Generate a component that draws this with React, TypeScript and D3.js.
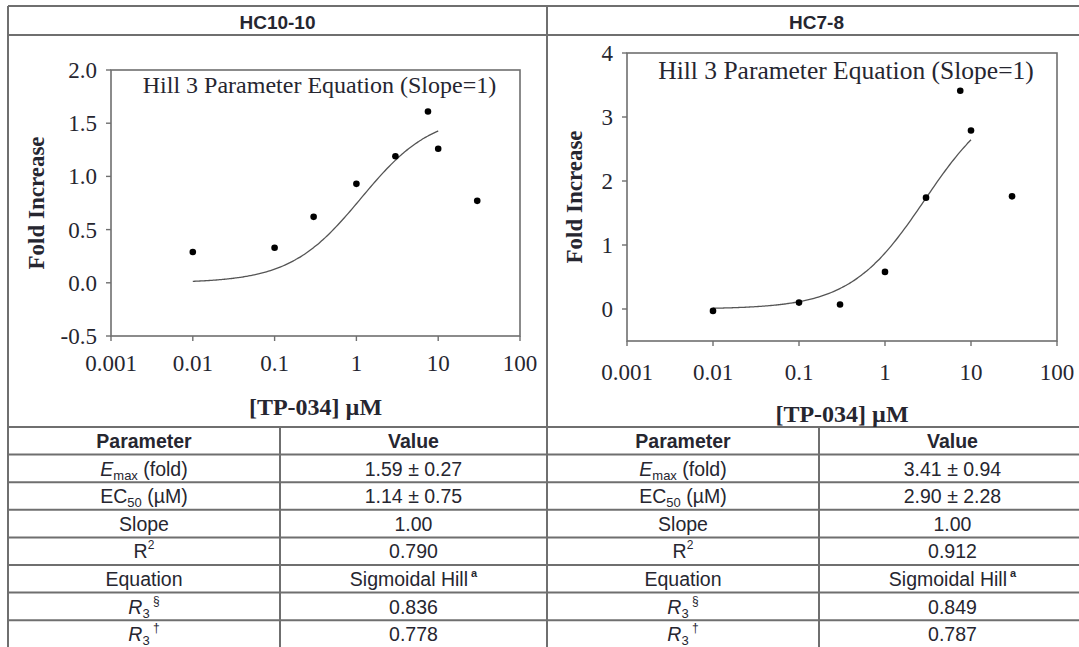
import React from "react";
import * as d3 from "d3";

// ---------- data ----------
const CONCENTRATIONS = [0.01, 0.1, 0.3, 1, 3, 7.5, 10, 30];
const HC10_FOLD = [0.29, 0.33, 0.62, 0.93, 1.19, 1.61, 1.26, 0.77];
const HC7_FOLD = [-0.03, 0.1, 0.07, 0.58, 1.74, 3.41, 2.79, 1.76];
const X_TICKS = [0.001, 0.01, 0.1, 1, 10, 100];
const HC10_Y_TICKS = [-0.5, 0, 0.5, 1.0, 1.5, 2.0];
const HC7_Y_TICKS = [0, 1, 2, 3, 4];
const PANEL_TITLES = ["HC10-10", "HC7-8"];
const FIT_EMAX = [1.59, 3.41];
const FIT_EC50 = [1.14, 2.9];
const FIT_SLOPE = [1.0, 1.0];
const FIT_CONC_RANGE = [0.01, 10];
const ANNOTATION = "Hill 3 Parameter Equation (Slope=1)";
const Y_TITLE = "Fold Increase";
const X_TITLE = "[TP-034] \u00b5M";
const HC10_TABLE_VALUES = ["1.59 \u00b1 0.27", "1.14 \u00b1 0.75", "1.00", "0.790", "Sigmoidal Hill", "0.836", "0.778"];
const HC7_TABLE_VALUES = ["3.41 \u00b1 0.94", "2.90 \u00b1 2.28", "1.00", "0.912", "Sigmoidal Hill", "0.849", "0.787"];

// ---------- layout ----------
const W = 1079;
const H = 647;
const LINE = "#6f6f6f";
const TXT = "#262630";
const SERIF = "'Liberation Serif', 'Times New Roman', serif";
const SANS = "'Liberation Sans', Arial, sans-serif";

const GRID_LEFT = 8;
const GRID_MID = 547;
const GRID_RIGHT = 1086;
const GRID_TOP = 6;
const HEADER_BOTTOM = 35;
const TABLE_TOP = 427;
const ROW_H = 27.6;
const COL_SPLIT = 272;

const fmtHyphen = (f: (n: number) => string) => (n: number) => f(n).replace("\u2212", "-");

const PANELS = [
  { x0: 111, x1: 520, yTop: 70, yBottom: 336, yDomain: [-0.5, 2], yTicks: HC10_Y_TICKS, yFmt: fmtHyphen(d3.format(".1f")), data: HC10_FOLD, annY: 93, yTitleX: 36, xLabelY: 371, xTitleY: 415, tableVals: HC10_TABLE_VALUES },
  { x0: 627, x1: 1057, yTop: 53, yBottom: 341, yDomain: [-0.5, 4], yTicks: HC7_Y_TICKS, yFmt: fmtHyphen(d3.format("d")), data: HC7_FOLD, annY: 79, yTitleX: 574, xLabelY: 380, xTitleY: 422, tableVals: HC7_TABLE_VALUES },
];

function Param({ i }: { i: number }) {
  switch (i) {
    case 0:
      return (
        <>
          <tspan fontStyle="italic">E</tspan>
          <tspan fontSize={13} dy={4}>max</tspan>
          <tspan dy={-4}>{" (fold)"}</tspan>
        </>
      );
    case 1:
      return (
        <>
          <tspan>EC</tspan>
          <tspan fontSize={13} dy={4}>50</tspan>
          <tspan dy={-4}>{" (\u00b5M)"}</tspan>
        </>
      );
    case 2:
      return <tspan>Slope</tspan>;
    case 3:
      return (
        <>
          <tspan>R</tspan>
          <tspan fontSize={12} dy={-9}>2</tspan>
        </>
      );
    case 4:
      return <tspan>Equation</tspan>;
    case 5:
      return (
        <>
          <tspan fontStyle="italic">R</tspan>
          <tspan fontSize={13} dy={4}>3</tspan>
          <tspan fontSize={12} dy={-13}>{" \u00a7"}</tspan>
        </>
      );
    default:
      return (
        <>
          <tspan fontStyle="italic">R</tspan>
          <tspan fontSize={13} dy={4}>3</tspan>
          <tspan fontSize={12} dy={-13}>{" \u2020"}</tspan>
        </>
      );
  }
}

function Panel({ idx }: { idx: number }) {
  const p = PANELS[idx];
  const x = d3.scaleLog().domain([X_TICKS[0], X_TICKS[X_TICKS.length - 1]]).range([p.x0, p.x1]);
  const y = d3.scaleLinear().domain(p.yDomain).range([p.yBottom, p.yTop]);
  const emax = FIT_EMAX[idx];
  const ec50 = FIT_EC50[idx];
  const h = FIT_SLOPE[idx];
  const lx0 = Math.log10(FIT_CONC_RANGE[0]);
  const lx1 = Math.log10(FIT_CONC_RANGE[1]);
  const curvePts = d3.range(0, 121).map((k) => {
    const c = Math.pow(10, lx0 + ((lx1 - lx0) * k) / 120);
    return [c, (emax * Math.pow(c, h)) / (Math.pow(ec50, h) + Math.pow(c, h))] as [number, number];
  });
  const line = d3.line<[number, number]>().x((d) => x(d[0])).y((d) => y(d[1])).curve(d3.curveMonotoneX);
  const cx = (p.x0 + p.x1) / 2;
  return (
    <g>
      <rect x={p.x0} y={p.yTop} width={p.x1 - p.x0} height={p.yBottom - p.yTop} fill="none" stroke={LINE} strokeWidth={1.6} />
      {p.yTicks.map((t) => (
        <g key={"y" + t}>
          <line x1={p.x0 - 5} x2={p.x0} y1={y(t)} y2={y(t)} stroke={LINE} strokeWidth={1.4} />
          <text x={p.x0 - 14} y={y(t) + 8} textAnchor="end" fontFamily={SERIF} fontSize={23} fill={TXT}>
            {p.yFmt(t)}
          </text>
        </g>
      ))}
      {X_TICKS.map((t) => (
        <g key={"x" + t}>
          <line x1={x(t)} x2={x(t)} y1={p.yBottom} y2={p.yBottom + 5} stroke={LINE} strokeWidth={1.4} />
          <text x={x(t)} y={p.xLabelY} textAnchor="middle" fontFamily={SERIF} fontSize={23} fill={TXT}>
            {String(t)}
          </text>
        </g>
      ))}
      <path d={line(curvePts) || ""} fill="none" stroke="#555" strokeWidth={1.3} />
      {CONCENTRATIONS.map((c, i) => (
        <circle key={"p" + i} cx={x(c)} cy={y(p.data[i])} r={3.3} fill="#000" />
      ))}
      <text x={cx + 4} y={p.annY} textAnchor="middle" fontFamily={SERIF} fontSize={idx === 0 ? 24 : 25.5} fill={TXT}>
        {ANNOTATION}
      </text>
      <text transform={`translate(${p.yTitleX},${(p.yTop + p.yBottom) / 2}) rotate(-90)`} dy={8} textAnchor="middle" fontFamily={SERIF} fontWeight="bold" fontSize={23} fill={TXT}>
        {Y_TITLE}
      </text>
      <text x={cx} y={p.xTitleY} textAnchor="middle" fontFamily={SERIF} fontWeight="bold" fontSize={24} fill={TXT}>
        {X_TITLE}
      </text>
    </g>
  );
}

function Table({ idx }: { idx: number }) {
  const left = idx === 0 ? GRID_LEFT : GRID_MID;
  const right = idx === 0 ? GRID_MID : GRID_RIGHT;
  const split = left + COL_SPLIT;
  const c1 = (left + split) / 2;
  const c2 = (split + right) / 2;
  const vals = PANELS[idx].tableVals;
  return (
    <g fontFamily={SANS} fontSize={19.5} fill={TXT}>
      <text x={c1} y={TABLE_TOP + 21} textAnchor="middle" fontWeight="bold">Parameter</text>
      <text x={c2} y={TABLE_TOP + 21} textAnchor="middle" fontWeight="bold">Value</text>
      {vals.map((v, i) => {
        const yb = TABLE_TOP + ROW_H * (i + 1) + 21;
        return (
          <g key={i}>
            <text x={c1} y={yb} textAnchor="middle">
              <Param i={i} />
            </text>
            <text x={c2} y={yb} textAnchor="middle">
              <tspan>{v}</tspan>
              {i === 4 ? (
                <tspan fontSize={11} fontWeight="bold" dy={-9}>{" a"}</tspan>
              ) : null}
            </text>
          </g>
        );
      })}
      <line x1={split} x2={split} y1={TABLE_TOP} y2={H + 2} stroke={LINE} strokeWidth={2} />
    </g>
  );
}

export default function App() {
  const rows = d3.range(1, 8).map((k) => TABLE_TOP + ROW_H * k);
  return (
    <svg width={W} height={H} style={{ position: "absolute", left: 0, top: 0, background: "#fff" }}>
      <rect x={0} y={0} width={W} height={H} fill="#fff" />
      <line x1={GRID_LEFT} x2={GRID_RIGHT} y1={GRID_TOP} y2={GRID_TOP} stroke={LINE} strokeWidth={2} />
      <line x1={GRID_LEFT} x2={GRID_RIGHT} y1={HEADER_BOTTOM} y2={HEADER_BOTTOM} stroke={LINE} strokeWidth={2} />
      <line x1={GRID_LEFT} x2={GRID_RIGHT} y1={TABLE_TOP} y2={TABLE_TOP} stroke={LINE} strokeWidth={2} />
      {rows.map((r) => (
        <line key={r} x1={GRID_LEFT} x2={GRID_RIGHT} y1={r} y2={r} stroke={LINE} strokeWidth={2} />
      ))}
      <line x1={GRID_LEFT} x2={GRID_LEFT} y1={GRID_TOP} y2={H + 2} stroke={LINE} strokeWidth={2} />
      <line x1={GRID_MID} x2={GRID_MID} y1={GRID_TOP} y2={H + 2} stroke={LINE} strokeWidth={2} />
      {PANEL_TITLES.map((t, i) => (
        <text key={t} x={i === 0 ? (GRID_LEFT + GRID_MID) / 2 : (GRID_MID + GRID_RIGHT) / 2} y={HEADER_BOTTOM - 6} textAnchor="middle" fontFamily={SANS} fontWeight="bold" fontSize={19} fill={TXT}>
          {t}
        </text>
      ))}
      <Panel idx={0} />
      <Panel idx={1} />
      <Table idx={0} />
      <Table idx={1} />
    </svg>
  );
}
